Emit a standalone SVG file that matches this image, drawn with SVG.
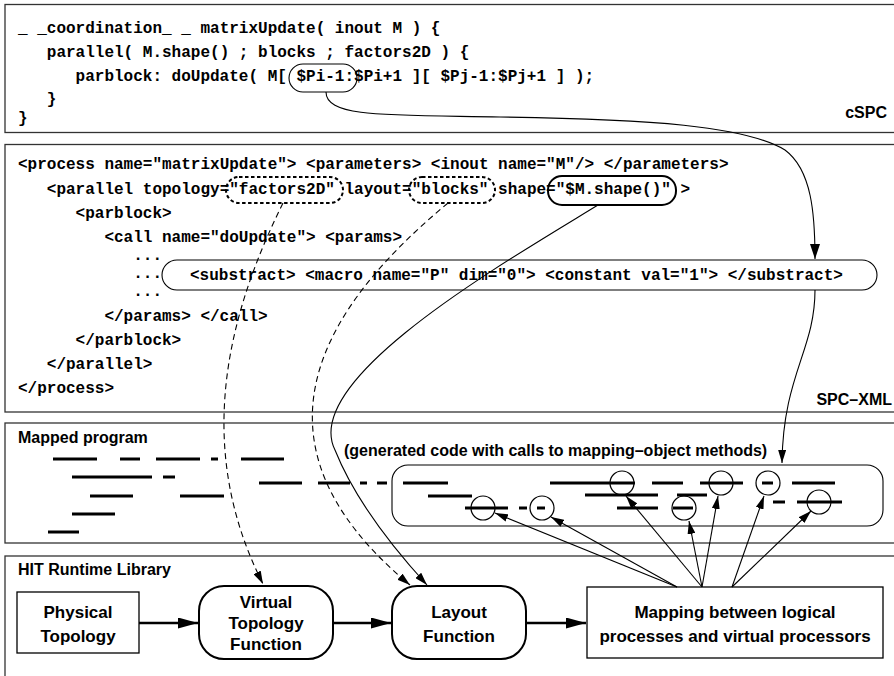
<svg xmlns="http://www.w3.org/2000/svg" width="894" height="676" viewBox="0 0 894 676">
<style>
.panel{fill:none;stroke:#333;stroke-width:1.3}
.code{font-family:"Liberation Mono","Courier New",monospace;font-weight:bold;font-size:16px;fill:#000;white-space:pre}
.lbl{font-family:"Liberation Sans",Arial,sans-serif;font-weight:bold;font-size:16px;fill:#000}
.box{font-family:"Liberation Sans",Arial,sans-serif;font-weight:bold;font-size:17px;fill:#000;text-anchor:middle}
.thin{fill:none;stroke:#000;stroke-width:1.1}
.dash{fill:none;stroke:#000;stroke-width:1.1;stroke-dasharray:6 4}
.dot{fill:none;stroke:#000;stroke-width:2;stroke-dasharray:3.5 2.5}
.thick{fill:none;stroke:#000;stroke-width:2}
.flow{fill:none;stroke:#000;stroke-width:2.5}
.bar{stroke:#000;stroke-width:3}
.circ{fill:none;stroke:#000;stroke-width:1.2}
</style>
<defs>
<marker id="ah" viewBox="0 0 13 8" refX="13" refY="4" markerWidth="13" markerHeight="8" markerUnits="userSpaceOnUse" orient="auto"><path d="M0,0 L13,4 L0,8 z" fill="#000"/></marker>
<marker id="ahm" viewBox="0 0 15 10" refX="15" refY="5" markerWidth="15" markerHeight="10" markerUnits="userSpaceOnUse" orient="auto"><path d="M0,0 L15,5 L0,10 z" fill="#000"/></marker>
<marker id="ahb" viewBox="0 0 20 11" refX="20" refY="5.5" markerWidth="20" markerHeight="11" markerUnits="userSpaceOnUse" orient="auto"><path d="M0,0 L20,5.5 L0,11 z" fill="#000"/></marker>
</defs>
<rect width="894" height="676" fill="#fff"/>

<g id="panels">
<rect class="panel" x="5" y="4.5" width="1000" height="128"/>
<rect class="panel" x="5" y="144.5" width="1000" height="267.5"/>
<rect class="panel" x="5" y="423" width="1000" height="120"/>
<rect class="panel" x="5" y="556" width="1000" height="200"/>
</g>

<g id="cspc">
<text class="code" x="18" y="33">_ _coordination_ _ matrixUpdate( inout M ) {</text>
<text class="code" x="46.8" y="57">parallel( M.shape() ; blocks ; factors2D ) {</text>
<text class="code" x="75.6" y="81">parblock: doUpdate( M[ $Pi-1:$Pi+1 ][ $Pj-1:$Pj+1 ] );</text>
<text class="code" x="46.8" y="104">}</text>
<text class="code" x="18" y="123">}</text>
<text class="lbl" x="887" y="118" text-anchor="end">cSPC</text>
<rect id="oval-pi" class="thin" x="289" y="64" width="68" height="28" rx="14"/>
</g>

<g id="spcxml">
<text class="code" x="18" y="169">&lt;process name="matrixUpdate"&gt; &lt;parameters&gt; &lt;inout name="M"/&gt; &lt;/parameters&gt;</text>
<text class="code" x="46.8" y="194">&lt;parallel topology="factors2D" layout="blocks" shape="$M.shape()" &gt;</text>
<text class="code" x="75.6" y="218">&lt;parblock&gt;</text>
<text class="code" x="104.4" y="242">&lt;call name="doUpdate"&gt; &lt;params&gt;</text>
<text class="code" x="133.2" y="260">...</text>
<text class="code" x="133.2" y="278">...</text>
<text class="code" x="133.2" y="296">...</text>
<text class="code" x="104.4" y="321">&lt;/params&gt; &lt;/call&gt;</text>
<text class="code" x="75.6" y="345">&lt;/parblock&gt;</text>
<text class="code" x="46.8" y="369">&lt;/parallel&gt;</text>
<text class="code" x="18" y="393">&lt;/process&gt;</text>
<text class="lbl" x="892" y="405" text-anchor="end">SPC–XML</text>
<rect id="oval-topology" class="dot" x="226" y="177" width="117" height="26" rx="13"/>
<rect id="oval-layout" class="dot" x="409" y="177" width="86" height="26" rx="13"/>
<rect id="oval-shape" class="thick" x="548" y="176" width="128" height="29" rx="14"/>
<g id="substract">
<rect class="thin" x="162" y="260" width="715" height="30" rx="15"/>
<text class="code" x="190" y="280">&lt;substract&gt; &lt;macro name="P" dim="0"&gt; &lt;constant val="1"&gt; &lt;/substract&gt;</text>
</g>
</g>

<g id="mapped">
<text class="lbl" x="18" y="443">Mapped program</text>
<text class="lbl" x="344" y="456">(generated code with calls to mapping–object methods)</text>
<rect class="thin" x="392" y="465" width="491" height="61" rx="16"/>
<g id="bars">
<line class="bar" x1="53" y1="459" x2="97" y2="459"/>
<line class="bar" x1="120" y1="459" x2="140" y2="459"/>
<line class="bar" x1="156" y1="459" x2="200" y2="459"/>
<line class="bar" x1="211" y1="459" x2="218" y2="459"/>
<line class="bar" x1="241" y1="459" x2="284" y2="459"/>
<line class="bar" x1="72" y1="477" x2="152" y2="477"/>
<line class="bar" x1="163" y1="477" x2="175" y2="477"/>
<line class="bar" x1="259" y1="483" x2="302" y2="483"/>
<line class="bar" x1="318" y1="483" x2="350" y2="483"/>
<line class="bar" x1="360" y1="483" x2="367" y2="483"/>
<line class="bar" x1="377" y1="483" x2="387" y2="483"/>
<line class="bar" x1="403" y1="483" x2="448" y2="483"/>
<line class="bar" x1="90" y1="496" x2="133" y2="496"/>
<line class="bar" x1="180" y1="496" x2="224" y2="496"/>
<line class="bar" x1="428" y1="496" x2="472" y2="496"/>
<line class="bar" x1="72" y1="514" x2="115" y2="514"/>
<line class="bar" x1="48" y1="532" x2="79" y2="532"/>
<line class="bar" x1="550" y1="483" x2="635" y2="483"/>
<line class="bar" x1="652" y1="483" x2="683" y2="483"/>
<line class="bar" x1="700" y1="483" x2="743" y2="483"/>
<line class="bar" x1="762" y1="483" x2="773" y2="483"/>
<line class="bar" x1="792" y1="483" x2="835" y2="483"/>
<line class="bar" x1="585" y1="495" x2="658" y2="495"/>
<line class="bar" x1="677" y1="495" x2="707" y2="495"/>
<line class="bar" x1="773" y1="502" x2="785" y2="502"/>
<line class="bar" x1="797" y1="502" x2="842" y2="502"/>
<line class="bar" x1="465" y1="508" x2="508" y2="508"/>
<line class="bar" x1="519" y1="508" x2="527" y2="508"/>
<line class="bar" x1="537" y1="508" x2="545" y2="508"/>
<line class="bar" x1="617" y1="508" x2="658" y2="508"/>
<line class="bar" x1="673" y1="508" x2="693" y2="508"/>
</g>
<g id="calls">
<circle class="circ" cx="483" cy="508" r="12"/>
<circle class="circ" cx="542" cy="508" r="12"/>
<circle class="circ" cx="622" cy="483" r="12"/>
<circle class="circ" cx="684" cy="508" r="12"/>
<circle class="circ" cx="721" cy="483" r="12"/>
<circle class="circ" cx="768" cy="483" r="12"/>
<circle class="circ" cx="819" cy="502" r="12"/>
</g>
</g>

<g id="hit">
<text class="lbl" x="18" y="575">HIT Runtime Library</text>
<g id="physical">
<rect fill="none" stroke="#000" stroke-width="1.3" x="17" y="592" width="122" height="61"/>
<text class="box" x="78" y="618">Physical</text>
<text class="box" x="78" y="642">Topology</text>
</g>
<g id="virtual">
<rect class="thick" x="199" y="586" width="134" height="73" rx="25"/>
<text class="box" x="266" y="608">Virtual</text>
<text class="box" x="266" y="629">Topology</text>
<text class="box" x="266" y="650">Function</text>
</g>
<g id="layout">
<rect class="thick" x="392" y="586" width="134" height="73" rx="25"/>
<text class="box" x="459" y="618">Layout</text>
<text class="box" x="459" y="642">Function</text>
</g>
<g id="mapping">
<rect fill="none" stroke="#000" stroke-width="1.3" x="587" y="587" width="296" height="71"/>
<text class="box" x="735" y="618">Mapping between logical</text>
<text class="box" x="735" y="642">processes and virtual processors</text>
</g>
</g>

<g id="connectors">
<path class="thin" marker-end="url(#ahm)" d="M326,92 C326,118 390,115 500,117 C650,119 745,126 785,150 C812,170 815,215 815,259"/>
<path class="thin" marker-end="url(#ah)" d="M815,290 C815,350 783,375 782,463"/>
<path class="dash" marker-end="url(#ah)" d="M283,203 C225,320 195,450 263,584"/>
<path class="dash" marker-end="url(#ah)" d="M448,203 C325,305 235,440 410,585"/>
<path class="thin" marker-end="url(#ah)" d="M598,205 C500,265 300,380 335,450 C355,500 395,550 427,585"/>
<line class="flow" marker-end="url(#ahb)" x1="139" y1="623" x2="198" y2="623"/>
<line class="flow" marker-end="url(#ahb)" x1="333" y1="623" x2="391" y2="623"/>
<line class="flow" marker-end="url(#ahb)" x1="526" y1="623" x2="586" y2="623"/>
<line class="thin" marker-end="url(#ah)" x1="677" y1="587" x2="495" y2="513"/>
<line class="thin" marker-end="url(#ah)" x1="677" y1="587" x2="551" y2="517"/>
<line class="thin" marker-end="url(#ah)" x1="702" y1="587" x2="626" y2="496"/>
<line class="thin" marker-end="url(#ah)" x1="702" y1="587" x2="689" y2="521"/>
<line class="thin" marker-end="url(#ah)" x1="702" y1="587" x2="718" y2="496"/>
<line class="thin" marker-end="url(#ah)" x1="732" y1="587" x2="764" y2="496"/>
<line class="thin" marker-end="url(#ah)" x1="732" y1="587" x2="811" y2="511"/>
</g>
</svg>
